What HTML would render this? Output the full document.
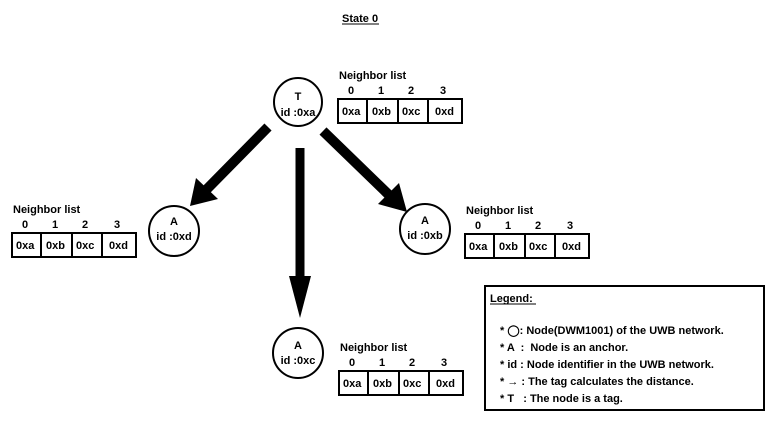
<!DOCTYPE html>
<html><head><meta charset="utf-8"><style>
body{margin:0;background:#fff;}
svg text{font-family:"Liberation Sans",sans-serif;font-weight:bold;font-size:11px;fill:#000;}
</style></head><body>
<svg width="771" height="419" xmlns="http://www.w3.org/2000/svg">
<defs>
<g id="tbl">
<text x="1" y="-20" font-size="11.5">Neighbor list</text>
<text x="10" y="-5">0</text><text x="40" y="-5">1</text><text x="70" y="-5">2</text><text x="102" y="-5">3</text>
<rect x="0" y="0" width="124" height="24" fill="none" stroke="#000" stroke-width="2"/>
<line x1="29" y1="0" x2="29" y2="24" stroke="#000" stroke-width="2"/>
<line x1="60" y1="0" x2="60" y2="24" stroke="#000" stroke-width="2"/>
<line x1="90" y1="0" x2="90" y2="24" stroke="#000" stroke-width="2"/>
<text x="4" y="16">0xa</text><text x="34" y="16">0xb</text><text x="64" y="16">0xc</text><text x="97" y="16">0xd</text>
</g>
</defs>
<text x="342" y="22">State 0</text>
<line x1="342" y1="24" x2="379" y2="24" stroke="#000" stroke-width="1"/>

<line x1="268" y1="127" x2="207" y2="189" stroke="#000" stroke-width="10"/>
<polygon points="190,206 196,178 218,199" fill="#000"/>
<line x1="300" y1="148" x2="300" y2="278" stroke="#000" stroke-width="9"/>
<polygon points="289,276 311,276 300,318" fill="#000"/>
<line x1="323" y1="131" x2="389" y2="195" stroke="#000" stroke-width="10"/>
<polygon points="407,212 378,204 399,183" fill="#000"/>

<circle cx="298" cy="102" r="24" fill="#fff" stroke="#000" stroke-width="2"/>
<text x="298" y="100" text-anchor="middle" font-size="11.5">T</text><text x="298" y="116" text-anchor="middle" font-size="11.5">id :0xa</text>
<circle cx="174" cy="231" r="25" fill="#fff" stroke="#000" stroke-width="2"/>
<text x="174" y="225" text-anchor="middle" font-size="11.5">A</text><text x="174" y="240" text-anchor="middle" font-size="11.5">id :0xd</text>
<circle cx="425" cy="229" r="25" fill="#fff" stroke="#000" stroke-width="2"/>
<text x="425" y="224" text-anchor="middle" font-size="11.5">A</text><text x="425" y="239" text-anchor="middle" font-size="11.5">id :0xb</text>
<circle cx="298" cy="353" r="25" fill="#fff" stroke="#000" stroke-width="2"/>
<text x="298" y="349" text-anchor="middle" font-size="11.5">A</text><text x="298" y="364" text-anchor="middle" font-size="11.5">id :0xc</text>

<use href="#tbl" x="338" y="99"/>
<use href="#tbl" x="12" y="233"/>
<use href="#tbl" x="465" y="234"/>
<use href="#tbl" x="339" y="371"/>

<rect x="485" y="286" width="279" height="124" fill="#fff" stroke="#000" stroke-width="2"/>
<text x="490" y="302" font-size="11.5">Legend:</text>
<line x1="490" y1="304" x2="536" y2="304" stroke="#000" stroke-width="1"/>
<text x="500" y="334" font-size="12">* ◯: Node(DWM1001) of the UWB network.</text>
<text x="500" y="351" font-size="12">* A &#160;: &#160;Node is an anchor.</text>
<text x="500" y="368" font-size="12">* id : Node identifier in the UWB network.</text>
<text x="500" y="385" font-size="12">* → : The tag calculates the distance.</text>
<text x="500" y="402" font-size="12">* T &#160; : The node is a tag.</text>
</svg>
</body></html>
